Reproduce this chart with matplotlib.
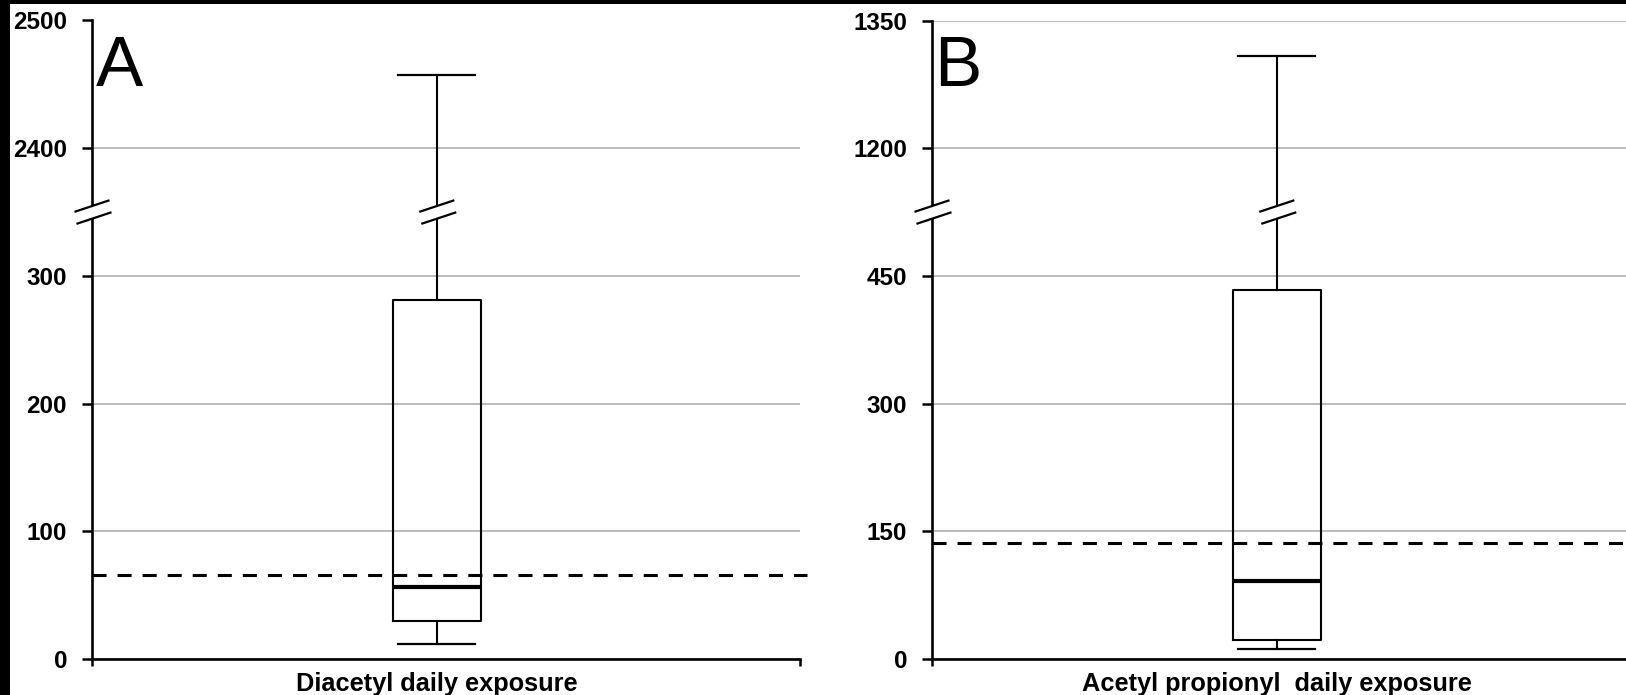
import matplotlib
matplotlib.use("Agg")
import matplotlib.pyplot as plt
from matplotlib.patches import Polygon, Rectangle
from matplotlib.lines import Line2D

plt.rcParams['font.family'] = ['Liberation Sans', 'DejaVu Sans']

# ---------------- data ----------------
categories = ["Diacetyl daily exposure", "Acetyl propionyl  daily exposure"]
panel_letters = ["A", "B"]
whisker_low = [12, 12]
q1 = [30, 22]
median = [56, 92]
q3 = [281, 433]
whisker_high = [2457, 1308]
limit_line = [66, 136]
ytick_values = [[0, 100, 200, 300, 2400, 2500],
                [0, 150, 300, 450, 1200, 1350]]
tick_step = [100, 150]
break_low = [300, 450]      # top of lower segment
break_high = [2400, 1200]   # first tick of upper segment

# ---------------- layout ----------------
W, H = 1626, 695
fig = plt.figure(figsize=(W / 100, H / 100), dpi=100, facecolor='white')


def axrect(l, r, t, b):
    return [l / W, 1 - b / H, (r - l) / W, (b - t) / H]


ax_rects = [axrect(92, 800, 20.5, 659), axrect(932, 1640, 20.5, 659)]
letter_x = [96, 934]
box_pos = 0.487
box_w = 0.124
cap_w = 0.109


def draw_break(ax, x, y, xcoords='data'):
    if xcoords == 'axes':
        px = ax.transAxes.transform((x, 0))[0]
    else:
        px = ax.transData.transform((x, 0))[0]
    py = ax.transData.transform((0, y))[1]
    hx, hy, sep = 17.5, 5.8, 6.0
    ul = (px - hx, py + sep - hy)
    ur = (px + hx, py + sep + hy)
    ll = (px - hx + 2, py - sep - hy)
    lr = (px + hx + 2, py - sep + hy)
    tof = lambda p: (p[0] / W, p[1] / H)
    poly = Polygon([tof(ul), tof(ur), tof(lr), tof(ll)], closed=True,
                   facecolor='white', edgecolor='none',
                   transform=fig.transFigure, zorder=8)
    fig.add_artist(poly)
    for a, b in [(ul, ur), (ll, lr)]:
        fig.add_artist(Line2D([a[0] / W, b[0] / W], [a[1] / H, b[1] / H],
                              color='black', lw=1.6, transform=fig.transFigure,
                              zorder=9, solid_capstyle='butt'))


for i in range(2):
    ax = fig.add_axes(ax_rects[i])
    ax.set_facecolor('none')
    lo_top = break_low[i]
    offset = break_high[i] - break_low[i] - tick_step[i]

    def m(v, lo_top=lo_top, offset=offset):
        return v if v <= lo_top else v - offset

    ax.set_xlim(0, 1)
    ax.set_ylim(0, m(ytick_values[i][-1]))
    ax.set_yticks([m(v) for v in ytick_values[i]])
    ax.set_yticklabels([str(v) for v in ytick_values[i]], fontweight='bold')
    ax.set_xticks([0, 1])
    ax.set_xticklabels([])
    ax.yaxis.grid(True, color='#b0b0b0', lw=1.2)
    ax.set_axisbelow(True)
    for s in ['top', 'right']:
        ax.spines[s].set_visible(False)
    for s in ['left', 'bottom']:
        ax.spines[s].set_linewidth(1.9)
        ax.spines[s].set_color('black')
        ax.spines[s].set_zorder(4)
    ax.tick_params(axis='y', direction='out', length=7, width=1.8, pad=11,
                   labelsize=17.5, colors='black')
    ax.tick_params(axis='x', direction='out', length=5, width=1.8)

    stats = [{'med': m(median[i]), 'q1': m(q1[i]), 'q3': m(q3[i]),
              'whislo': m(whisker_low[i]), 'whishi': m(whisker_high[i]),
              'fliers': []}]
    ax.bxp(stats, positions=[box_pos], widths=box_w, capwidths=cap_w,
           showfliers=False, manage_ticks=False,
           boxprops=dict(color='black', linewidth=1.5),
           whiskerprops=dict(color='black', linewidth=1.5),
           capprops=dict(color='black', linewidth=1.6),
           medianprops=dict(color='black', linewidth=3.0))

    ax.axhline(m(limit_line[i]), xmin=0, xmax=1.01, color='black', lw=2.2,
               dashes=(4.6, 3.6), clip_on=False, zorder=5)

    ax.annotate(categories[i], xy=(box_pos, 0), xycoords=('data', 'axes fraction'),
                xytext=(0, -13), textcoords='offset pixels', ha='center', va='top',
                fontsize=18.3, fontweight='bold', annotation_clip=False)

    fig.text(letter_x[i] / W, 1 - 86 / H, panel_letters[i], fontsize=51,
             ha='left', va='baseline', color='black')

    ybreak = lo_top + tick_step[i] / 2
    draw_break(ax, 0, ybreak, xcoords='axes')
    draw_break(ax, box_pos, ybreak)

# black scan borders
fig.add_artist(Rectangle((0, 0), 10 / W, 1, transform=fig.transFigure,
                         facecolor='black', edgecolor='none', zorder=20))
fig.add_artist(Rectangle((0, 1 - 4 / H), 1, 4 / H, transform=fig.transFigure,
                         facecolor='black', edgecolor='none', zorder=20))

fig.savefig('out.png', dpi=100, facecolor='white')
